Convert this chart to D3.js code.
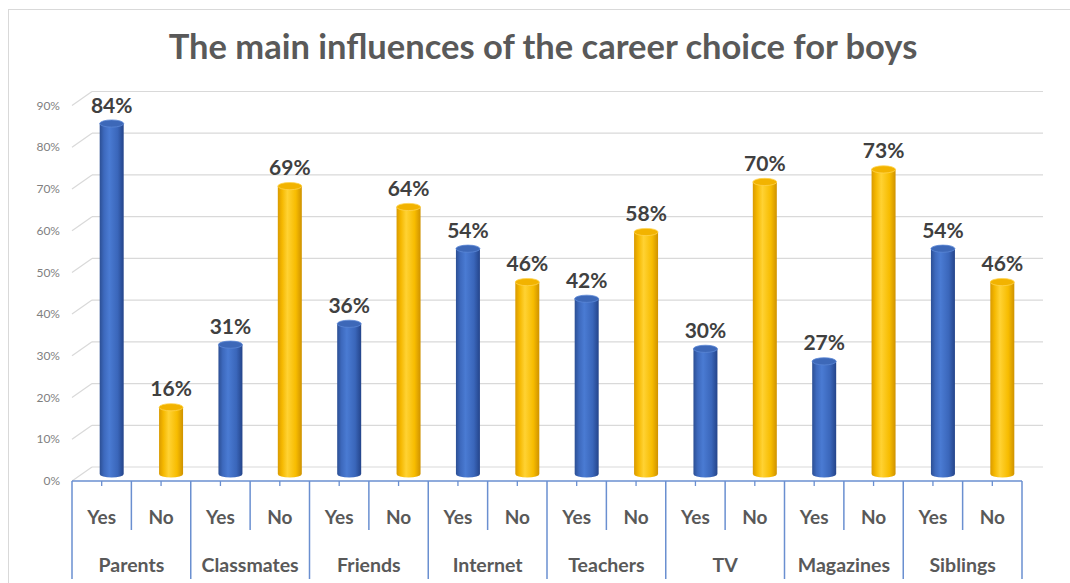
<!DOCTYPE html>
<html>
<head>
<meta charset="utf-8">
<script src="https://cdn.jsdelivr.net/npm/d3@7"></script>
<style>
  html, body { margin: 0; padding: 0; background: #fff; }
  svg { display: block; }
</style>
</head>
<body>
<svg id="chart" width="1070" height="583"></svg>
<script>
// Chart data
const categories = ["Parents", "Classmates", "Friends", "Internet", "Teachers", "TV", "Magazines", "Siblings"];
const answers = ["Yes", "No"];
const yesValues = [84, 31, 36, 54, 42, 30, 27, 54];
const noValues  = [16, 69, 64, 46, 58, 70, 73, 46];
const yTickValues = [0, 10, 20, 30, 40, 50, 60, 70, 80, 90];
const titleText = "The main influences of the career choice for boys";

const svg = d3.select("#chart");
const W = 1070, H = 583;
const font = "Lato, 'Open Sans', sans-serif";

// Plot geometry (front plane of the 3D box plus depth offset)
const x0 = 72, x1 = 1022;
const yZero = 481, yTop = 105.5;
const depthX = 20, depthY = -14;

// Outer frame
svg.append("rect").attr("x", 8.5).attr("y", 9.5).attr("width", W + 10).attr("height", H)
  .attr("fill", "#fff").attr("stroke", "#d9d9d9").attr("stroke-width", 1);

// Flattened slots: one per (category, answer)
const rows = [];
categories.forEach((c, i) => {
  rows.push({ key: c + "|Yes", cat: c, ans: "Yes", value: yesValues[i] });
  rows.push({ key: c + "|No", cat: c, ans: "No", value: noValues[i] });
});

const x = d3.scaleBand().domain(rows.map(d => d.key)).range([x0, x1]).padding(0);
const y = d3.scaleLinear().domain([0, 90]).range([yZero, yTop]);

// Title
svg.append("text")
  .attr("x", 543).attr("y", 59)
  .attr("text-anchor", "middle")
  .attr("font-family", font).attr("font-weight", 700)
  .attr("font-size", 34.5).attr("fill", "#595959")
  .text(titleText);

// Walls: gridlines on the back wall and diagonals on the side wall
const grid = svg.append("g");
yTickValues.forEach(v => {
  const yf = y(v);
  grid.append("line")
    .attr("x1", x0 + depthX).attr("x2", x1 + depthX + 1)
    .attr("y1", yf + depthY).attr("y2", yf + depthY)
    .attr("stroke", "#d9d9d9").attr("stroke-width", 1.2);
  grid.append("line")
    .attr("x1", x0).attr("y1", yf)
    .attr("x2", x0 + depthX).attr("y2", yf + depthY)
    .attr("stroke", "#d9d9d9").attr("stroke-width", 1.2);
});

// Y axis tick labels
svg.append("g").selectAll("text").data(yTickValues).join("text")
  .attr("x", 60).attr("y", d => y(d))
  .attr("dy", "0.35em")
  .attr("text-anchor", "end")
  .attr("font-family", font).attr("font-size", 12)
  .attr("fill", "#7f7f7f")
  .text(d => d + "%");

// Cylinder gradients
const defs = svg.append("defs");
function cylGrad(id, stops) {
  const g = defs.append("linearGradient").attr("id", id)
    .attr("x1", "0%").attr("x2", "100%").attr("y1", "0%").attr("y2", "0%");
  stops.forEach(([o, c]) => g.append("stop").attr("offset", o).attr("stop-color", c));
}
cylGrad("gBlue", [["0%", "#2c4f94"], ["18%", "#3d69bd"], ["40%", "#4a7bd3"], ["75%", "#3a66ba"], ["100%", "#24448a"]]);
cylGrad("gYellow", [["0%", "#d99a00"], ["18%", "#f5b800"], ["40%", "#ffd233"], ["75%", "#f7bc00"], ["100%", "#cf9200"]]);

const bw = 24, rx = bw / 2, ry = 3.6;
const bars = svg.append("g");
rows.forEach(d => {
  const cx = x(d.key) + x.bandwidth() / 2 + depthX / 2;
  const yb = y(0) + depthY / 2;
  const yt = y(d.value) + depthY / 2;
  const isYes = d.ans === "Yes";
  bars.append("path")
    .attr("d", `M${cx - rx},${yt} L${cx - rx},${yb} A${rx},${ry} 0 0 0 ${cx + rx},${yb} L${cx + rx},${yt} Z`)
    .attr("fill", isYes ? "url(#gBlue)" : "url(#gYellow)");
  bars.append("ellipse")
    .attr("cx", cx).attr("cy", yt).attr("rx", rx).attr("ry", ry)
    .attr("fill", isYes ? "#3d68b8" : "#f2b300")
    .attr("stroke", isYes ? "#5a86d6" : "#ffd34d").attr("stroke-width", 0.8);
  // Value label
  bars.append("text")
    .attr("x", cx).attr("y", yt - 11)
    .attr("text-anchor", "middle")
    .attr("font-family", font).attr("font-weight", 700)
    .attr("font-size", 21).attr("fill", "#404040")
    .text(d.value + "%");
});

// Category axis (multi-level)
const axisColor = "#6a8fd0";
const ax = svg.append("g");
ax.append("line").attr("x1", x0).attr("x2", x1).attr("y1", yZero).attr("y2", yZero)
  .attr("stroke", axisColor).attr("stroke-width", 1.5);
// Short ticks at slot centres
rows.forEach(d => {
  const cx = x(d.key) + x.bandwidth() / 2;
  ax.append("line").attr("x1", cx).attr("x2", cx).attr("y1", yZero).attr("y2", yZero + 5)
    .attr("stroke", axisColor).attr("stroke-width", 1.3);
});
// Separators between answers and between categories
rows.forEach((d, i) => {
  const xs = x(d.key);
  const long = i % 2 === 0;
  ax.append("line").attr("x1", xs).attr("x2", xs)
    .attr("y1", yZero).attr("y2", long ? 579 : 530)
    .attr("stroke", axisColor).attr("stroke-width", 1.5);
});
ax.append("line").attr("x1", x1).attr("x2", x1).attr("y1", yZero).attr("y2", 579)
  .attr("stroke", axisColor).attr("stroke-width", 1.5);

// Answer labels
ax.selectAll("text.ans").data(rows).join("text").attr("class", "ans")
  .attr("x", d => x(d.key) + x.bandwidth() / 2).attr("y", 517)
  .attr("dy", "0.35em").attr("text-anchor", "middle")
  .attr("font-family", font).attr("font-weight", 700).attr("font-size", 19)
  .attr("fill", "#595959")
  .text(d => d.ans);

// Category labels
ax.selectAll("text.cat").data(categories).join("text").attr("class", "cat")
  .attr("x", c => x(c + "|Yes") + x.bandwidth())
  .attr("y", 565).attr("dy", "0.35em").attr("text-anchor", "middle")
  .attr("font-family", font).attr("font-weight", 700).attr("font-size", 19.5)
  .attr("fill", "#595959")
  .text(c => c);
</script>
</body>
</html>
